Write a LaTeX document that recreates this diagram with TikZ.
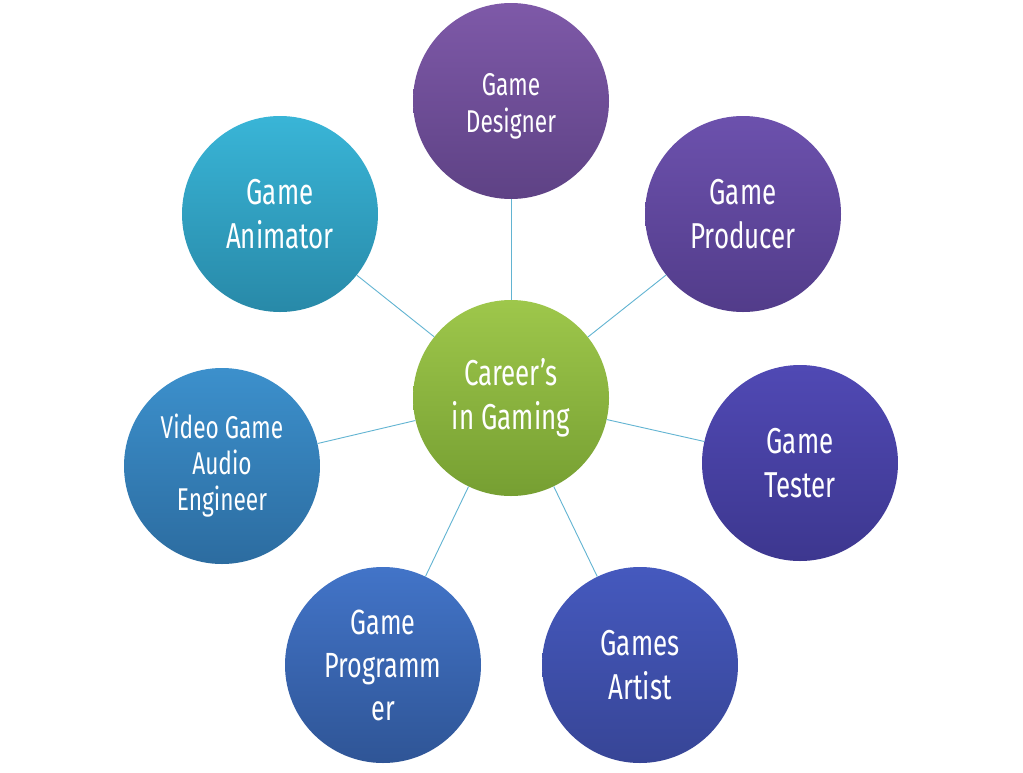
\documentclass[tikz,border=0pt]{standalone}
\usepackage{fontspec}
\setmainfont[FakeStretch=0.72]{Fira Sans}
\definecolor{lnk}{HTML}{62B4D2}
\tikzset{
  bub/.style={circle, minimum size=196pt, inner sep=0pt, text=white, align=center,
    font=\fontsize{36}{44}\selectfont, draw=none},
  bubs/.style={bub, font=\fontsize{31.5}{37}\selectfont},
  lbl/.style={text=white, align=center, inner sep=0pt, font=\fontsize{31.5}{37}\selectfont},
  lk/.style={draw=lnk, line width=0.9pt}
}
\begin{document}
\begin{tikzpicture}[x=1pt,y=-1pt]
\useasboundingbox (0,0) rectangle (1023,772);
\fill[white] (0,0) rectangle (1023,772);
\node[bub, top color={rgb,255:red,158;green,199;blue,75}, bottom color={rgb,255:red,118;green,159;blue,50}] (c) at (511,398) {Career’s\\in Gaming};
\node[bubs, top color={rgb,255:red,126;green,89;blue,168}, bottom color={rgb,255:red,94;green,66;blue,133}] (des) at (511,101) {};
\node[lbl] (destext) at (511,106) {Game\\Designer};
\node[bub, top color={rgb,255:red,108;green,81;blue,173}, bottom color={rgb,255:red,82;green,60;blue,138}] (pro) at (743,214) {Game\\Producer};
\node[bub, top color={rgb,255:red,80;green,73;blue,180}, bottom color={rgb,255:red,61;green,55;blue,143}] (tes) at (800,463) {Game\\Tester};
\node[bub, top color={rgb,255:red,69;green,89;blue,190}, bottom color={rgb,255:red,55;green,69;blue,150}] (art) at (640,665) {Games\\Artist};
\node[bub, font=\fontsize{35}{43}\selectfont, top color={rgb,255:red,66;green,116;blue,200}, bottom color={rgb,255:red,47;green,85;blue,150}] (prg) at (383,665) {Game\\Programm\\er};
\node[bubs, font=\fontsize{31.5}{36}\selectfont, top color={rgb,255:red,60;green,144;blue,204}, bottom color={rgb,255:red,44;green,108;blue,160}] (aud) at (222,466) {Video Game\\Audio\\Engineer};
\node[bub, top color={rgb,255:red,57;green,181;blue,215}, bottom color={rgb,255:red,40;green,137;blue,168}] (ani) at (280,214) {Game\\Animator};
\foreach \n in {des,pro,tes,art,prg,aud,ani} {\path[lk] (c) -- (\n);}
\end{tikzpicture}
\end{document}
